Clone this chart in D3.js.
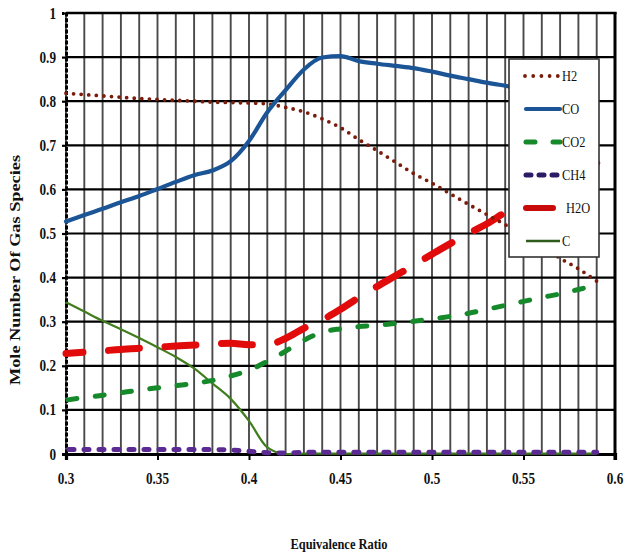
<!DOCTYPE html>
<html>
<head>
<meta charset="utf-8">
<script src="https://cdn.jsdelivr.net/npm/d3@7"></script>
<style>
  html, body { margin: 0; padding: 0; background: #fff; }
  svg { display: block; }
</style>
</head>
<body>
<svg id="chart" width="625" height="555"></svg>
<script>
// Equivalence ratio sampled every 0.01
const phi = [0.30,0.31,0.32,0.33,0.34,0.35,0.36,0.37,0.38,0.39,
             0.40,0.41,0.42,0.43,0.44,0.45,0.46,0.47,0.48,0.49,
             0.50,0.51,0.52,0.53,0.54,0.55,0.56,0.57,0.58,0.59];

// Mole numbers of each gas species
const h2  = [0.818,0.815,0.812,0.809,0.806,0.804,0.802,0.800,0.798,0.797,
             0.796,0.794,0.786,0.776,0.760,0.740,0.713,0.688,0.662,0.636,
             0.614,0.590,0.566,0.543,0.520,0.497,0.472,0.444,0.420,0.392];
const co  = [0.527,0.542,0.556,0.571,0.585,0.601,0.617,0.632,0.643,0.664,
             0.710,0.775,0.825,0.872,0.899,0.902,0.891,0.885,0.880,0.875,
             0.867,0.858,0.850,0.842,0.835,0.828,0.821,0.814,0.807,0.800];
const co2 = [0.122,0.128,0.133,0.139,0.145,0.150,0.155,0.160,0.167,0.177,
             0.190,0.210,0.233,0.258,0.276,0.284,0.289,0.292,0.296,0.301,
             0.306,0.312,0.319,0.328,0.337,0.346,0.355,0.363,0.373,0.383];
const ch4 = [0.010,0.010,0.010,0.010,0.010,0.010,0.010,0.010,0.010,0.009,
             0.006,0.003,0.002,0.004,0.004,0.004,0.004,0.004,0.004,0.004,
             0.004,0.004,0.004,0.004,0.004,0.004,0.004,0.004,0.004,0.004];
const h2o = [0.228,0.231,0.234,0.237,0.240,0.242,0.245,0.247,0.250,0.251,
             0.248,0.248,0.262,0.285,0.304,0.328,0.355,0.380,0.404,0.428,
             0.453,0.477,0.500,0.522,0.548,0.572,0.595,0.618,0.640,0.660];
const carbon = [0.344,0.323,0.302,0.283,0.263,0.242,0.220,0.194,0.160,0.125,
                0.075,0.015,0.000,0.001,0.001,0.001,0.001,0.001,0.001,0.001,
                0.001,0.001,0.001,0.001,0.001,0.001,0.001,0.001,0.001,0.001];

const seriesNames = ["H2","CO","CO2","CH4","H2O","C"];
const xTicks = [0.3,0.35,0.4,0.45,0.5,0.55,0.6];
const xTickLabels = ["0.3","0.35","0.4","0.45","0.5","0.55","0.6"];
const yTicks = [0,0.1,0.2,0.3,0.4,0.5,0.6,0.7,0.8,0.9,1];
const yTickLabels = ["0","0.1","0.2","0.3","0.4","0.5","0.6","0.7","0.8","0.9","1"];
const xGrid = d3.range(31).map(i => +(0.3 + i * 0.01).toFixed(2));

const svg = d3.select("#chart");
const M = {left: 66, right: 615, top: 13, bottom: 454};
const x = d3.scaleLinear().domain([0.3, 0.6]).range([M.left, M.right]);
const y = d3.scaleLinear().domain([0, 1]).range([M.bottom, M.top]);

const SERIF = "'Liberation Serif','Times New Roman',serif";

// condensed serif text helper
function label(g, tx, ty, str, opts) {
  return g.append("text")
    .attr("transform", `translate(${tx},${ty}) scale(${opts.sx || 0.8},1)`)
    .attr("font-family", SERIF)
    .attr("font-size", opts.size || 15)
    .attr("font-weight", opts.weight || "bold")
    .attr("text-anchor", opts.anchor || "middle")
    .attr("fill", "#111")
    .text(str);
}

// grid
const grid = svg.append("g");
grid.selectAll("line.v").data(xGrid).join("line")
  .attr("x1", d => x(d)).attr("x2", d => x(d))
  .attr("y1", M.top).attr("y2", M.bottom)
  .attr("stroke", "#4a4a4a").attr("stroke-width", 1.9);
grid.selectAll("line.h").data(yTicks).join("line")
  .attr("x1", M.left).attr("x2", M.right)
  .attr("y1", d => y(d)).attr("y2", d => y(d))
  .attr("stroke", "#000").attr("stroke-width", 2.2);

// frame
svg.append("line").attr("x1", M.right).attr("x2", M.right)
  .attr("y1", M.top - 1).attr("y2", M.bottom + 6)
  .attr("stroke", "#000").attr("stroke-width", 3);
svg.append("line").attr("x1", M.left).attr("x2", M.right + 1.5)
  .attr("y1", M.top).attr("y2", M.top)
  .attr("stroke", "#000").attr("stroke-width", 2.6);

// axes
const xAxis = d3.axisBottom(x).tickValues(xTicks).tickSize(6).tickFormat("");
const gx = svg.append("g").attr("transform", `translate(0,${M.bottom})`).call(xAxis);
gx.select(".domain").attr("stroke", "#000").attr("stroke-width", 3.2);
gx.selectAll(".tick line").attr("stroke", "#000").attr("stroke-width", 2);

const yAxis = d3.axisLeft(y).tickValues(yTicks).tickSize(4).tickFormat("");
const gy = svg.append("g").attr("transform", `translate(${M.left},0)`).call(yAxis);
gy.select(".domain").attr("stroke", "#000").attr("stroke-width", 3).attr("stroke-dasharray", "4,1.6");
gy.selectAll(".tick line").attr("stroke", "#000").attr("stroke-width", 2.2);

// tick labels
const tl = svg.append("g");
xTicks.forEach((v, i) => label(tl, x(v), 484, xTickLabels[i], {anchor: "middle", size: 16.5, sx: 0.8}));
yTicks.forEach((v, i) => label(tl, 56, y(v) + 5.5, yTickLabels[i], {anchor: "end", size: 16.5, sx: 0.8}));

// series lines
const styles = {
  H2:  {data: h2,  color: "#7a1c0c", width: 3.8, dash: "0,7.6", cap: "round"},
  CO:  {data: co,  color: "#1c5596", width: 4.2, dash: null, cap: "round"},
  CO2: {data: co2, color: "#16892b", width: 5, dash: "9,18.5", cap: "round", offset: -2},
  CH4: {data: ch4, color: "#5b2a92", width: 5, dash: "5,10", cap: "round", offset: -3},
  H2O: {data: h2o, color: "#e20b0b", width: 7, dash: "31,25.6", cap: "round", offset: 14},
  C:   {data: carbon, color: "#3f7d1e", width: 2.2, dash: null, cap: "butt"}
};
const drawOrder = ["C","CH4","CO2","H2O","H2","CO"];
const line = d3.line().x(d => x(d[0])).y(d => y(d[1])).curve(d3.curveMonotoneX);
const lines = svg.append("g");
drawOrder.forEach(name => {
  const s = styles[name];
  const pts = phi.map((p, i) => [p, s.data[i]]);
  const path = lines.append("path").datum(pts)
    .attr("d", line)
    .attr("fill", "none")
    .attr("stroke", s.color)
    .attr("stroke-width", s.width)
    .attr("stroke-linecap", s.cap)
    .attr("stroke-linejoin", "round");
  if (s.dash) path.attr("stroke-dasharray", s.dash).attr("stroke-dashoffset", s.offset || 0);
});

// legend
const lg = svg.append("g");
lg.append("rect").attr("x", 509).attr("y", 59).attr("width", 90).attr("height", 198)
  .attr("fill", "#fff").attr("stroke", "#333").attr("stroke-width", 1.6);
const legendColors = {H2: "#7a1c0c", CO: "#1c5596", CO2: "#16892b", CH4: "#2c1a66", H2O: "#c80a0a", C: "#2f5c1c"};
seriesNames.forEach((name, i) => {
  const s = styles[name];
  const ly = 76 + i * 33;
  const seg = lg.append("line")
    .attr("x1", name === "H2" ? 525 : 526).attr("x2", name === "H2" ? 558 : 560)
    .attr("y1", ly).attr("y2", ly)
    .attr("stroke", legendColors[name])
    .attr("stroke-width", name === "C" ? 2.4 : s.width)
    .attr("stroke-linecap", s.cap);
  if (name === "H2") seg.attr("stroke-dasharray", "0,8.2");
  if (name === "CO2") seg.attr("stroke-dasharray", "9,18").attr("stroke-width", 5);
  if (name === "CH4") seg.attr("stroke-dasharray", "5,8").attr("stroke-width", 5);
  if (name === "H2O") seg.attr("x2", 553).attr("stroke-width", 6);
  label(lg, name === "H2O" ? 566 : 562, ly + 5, name, {anchor: "start", weight: "normal", size: 15.5, sx: 0.8});
});

// axis titles
svg.append("text")
  .attr("transform", "translate(20,270) rotate(-90)")
  .attr("font-family", SERIF).attr("font-size", 15).attr("font-weight", "bold")
  .attr("text-anchor", "middle").attr("fill", "#111")
  .attr("textLength", 230).attr("lengthAdjust", "spacingAndGlyphs")
  .text("Mole Number Of Gas Species");
svg.append("text")
  .attr("x", 339).attr("y", 549)
  .attr("font-family", SERIF).attr("font-size", 14.5).attr("font-weight", "bold")
  .attr("text-anchor", "middle").attr("fill", "#111")
  .attr("textLength", 97).attr("lengthAdjust", "spacingAndGlyphs")
  .text("Equivalence Ratio");
</script>
</body>
</html>
